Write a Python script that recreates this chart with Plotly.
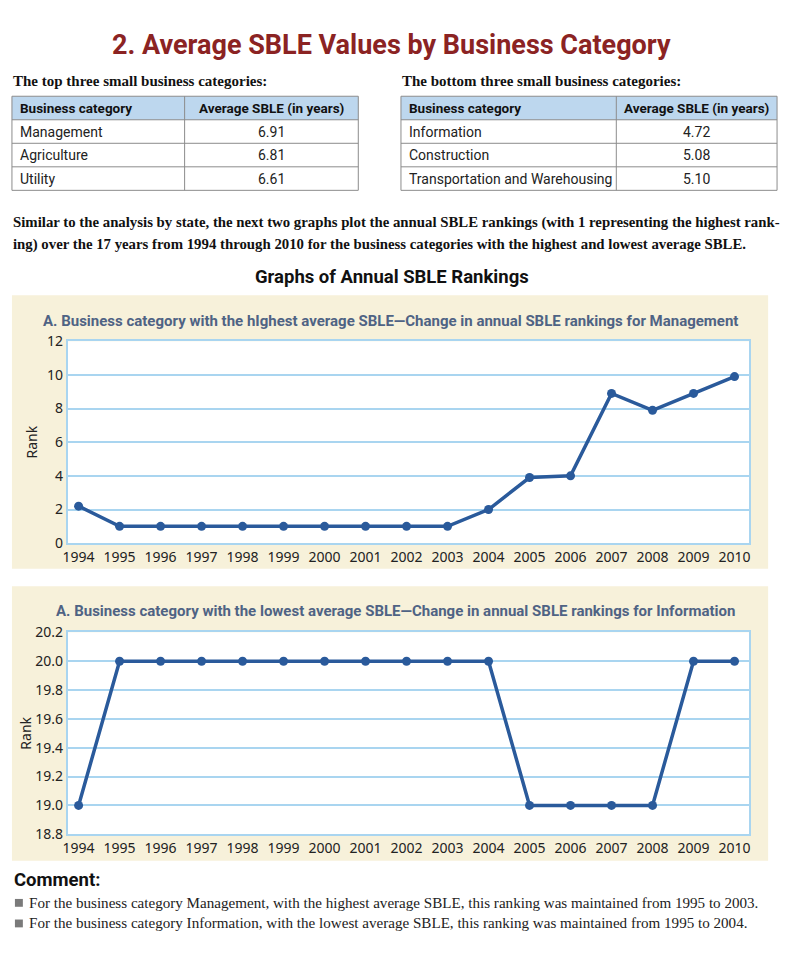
import plotly.graph_objects as go

W, H = 786, 954

years = list(range(1994, 2011))
mgmt_rank = [2.2, 1, 1, 1, 1, 1, 1, 1, 1, 1, 2, 3.9, 4.0, 8.9, 7.9, 8.9, 9.9]
info_rank = [19.0, 20, 20, 20, 20, 20, 20, 20, 20, 20, 20, 19, 19, 19, 19, 20, 20]

table_header = ["Business category", "Average SBLE (in years)"]
top_cats = ["Management", "Agriculture", "Utility"]
top_vals = ["6.91", "6.81", "6.61"]
bot_cats = ["Information", "Construction", "Transportation and Warehousing"]
bot_vals = ["4.72", "5.08", "5.10"]

LINE = "#2a5a9b"
GRID = "#a9d5f0"
PANEL = "#f7f1da"
SLATE = "#4f6384"
SANS = "Roboto, Arial, sans-serif"
SERIF = "Liberation Serif, Times New Roman, serif"
TICK = "Noto Sans, DejaVu Sans, sans-serif"


def px(x):
    return x / W


def py(y):
    return 1 - y / H


fig = go.Figure()

fig.add_trace(go.Scatter(x=years, y=mgmt_rank, mode="lines+markers", xaxis="x", yaxis="y",
                         line=dict(color=LINE, width=3.5), marker=dict(size=9, color=LINE),
                         showlegend=False, hoverinfo="x+y"))
fig.add_trace(go.Scatter(x=years, y=info_rank, mode="lines+markers", xaxis="x2", yaxis="y2",
                         line=dict(color=LINE, width=3.5), marker=dict(size=9, color=LINE),
                         showlegend=False, hoverinfo="x+y"))

ax_common = dict(showline=True, linecolor=GRID, linewidth=1.5, mirror=True,
                 tickfont=dict(family=TICK, size=14, color="#222"), ticks="")
xr = [1993.73, 2010.36]
fig.update_layout(
    xaxis=dict(domain=[px(63), px(750)], range=xr, anchor="y", tickmode="array", tickvals=years,
               showgrid=False, zeroline=False, **ax_common),
    yaxis=dict(domain=[py(544), py(338)], range=[0, 12], dtick=2, anchor="x", gridcolor=GRID,
               gridwidth=1.5, zeroline=False,
               title=dict(text="Rank", font=dict(family=TICK, size=14, color="#222"), standoff=6),
               **ax_common),
    xaxis2=dict(domain=[px(63), px(750)], range=xr, anchor="y2", tickmode="array", tickvals=years,
                showgrid=False, zeroline=False, **ax_common),
    yaxis2=dict(domain=[py(841), py(635)], range=[18.8, 20.2], dtick=0.2, tickformat=".1f",
                anchor="x2", gridcolor=GRID, gridwidth=1.5, zeroline=False,
                title=dict(text="Rank", font=dict(family=TICK, size=14, color="#222"), standoff=0),
                **ax_common),
)

shapes = [
    dict(type="rect", xref="paper", yref="paper", x0=px(7), x1=px(769), y0=py(570), y1=py(291),
         fillcolor=PANEL, line=dict(width=0), layer="below"),
    dict(type="rect", xref="paper", yref="paper", x0=px(7), x1=px(769), y0=py(868), y1=py(588),
         fillcolor=PANEL, line=dict(width=0), layer="below"),
    dict(type="rect", xref="paper", yref="paper", x0=px(63), x1=px(750), y0=py(544), y1=py(338),
         fillcolor="white", line=dict(width=0), layer="below"),
    dict(type="rect", xref="paper", yref="paper", x0=px(63), x1=px(750), y0=py(841), y1=py(635),
         fillcolor="white", line=dict(width=0), layer="below"),
    dict(type="rect", xref="paper", yref="paper", x0=px(10), x1=px(18), y0=py(915), y1=py(907),
         fillcolor="#7a7a7a", line=dict(width=0)),
    dict(type="rect", xref="paper", yref="paper", x0=px(10), x1=px(18), y0=py(936), y1=py(928),
         fillcolor="#7a7a7a", line=dict(width=0)),
]


def ann(text, x, y, size, family, color="#111", xanchor="left", bold=False):
    t = f"<b>{text}</b>" if bold else text
    return dict(text=t, x=px(x), y=py(y), xref="paper", yref="paper", xanchor=xanchor,
                yanchor="middle", showarrow=False, font=dict(size=size, family=family, color=color))


annotations = []

TB_GRAY = "#8c8c8c"


def add_table(cats, vals, x0, xm, x1):
    top, rh = 88, 24
    n = len(cats)
    bottom = top + rh * (n + 1)
    shapes.append(dict(type="rect", xref="paper", yref="paper", x0=px(x0), x1=px(x1),
                       y0=py(top + rh), y1=py(top), fillcolor="#bdd7ee", line=dict(width=0)))
    for i in range(n + 2):
        yy = top + rh * i
        shapes.append(dict(type="line", xref="paper", yref="paper", x0=px(x0), x1=px(x1),
                           y0=py(yy), y1=py(yy), line=dict(color=TB_GRAY, width=1)))
    for xx in (x0, xm, x1):
        shapes.append(dict(type="line", xref="paper", yref="paper", x0=px(xx), x1=px(xx),
                           y0=py(bottom), y1=py(top), line=dict(color=TB_GRAY, width=1)))
    annotations.append(ann(table_header[0], x0 + 6, top + rh / 2, 13.5, SANS, "#111", bold=True))
    annotations.append(ann(table_header[1], (xm + x1) / 2, top + rh / 2, 13.5, SANS, "#111", "center", True))
    for i, (c, v) in enumerate(zip(cats, vals)):
        yc = top + rh * (i + 1) + rh / 2
        annotations.append(ann(c, x0 + 6, yc, 14, SANS, "#222"))
        annotations.append(ann(v, (xm + x1) / 2, yc, 14, SANS, "#222", "center"))


add_table(top_cats, top_vals, 7, 181, 356)
add_table(bot_cats, bot_vals, 399, 616, 778)

annotations += [
    ann("2. Average SBLE Values by Business Category", 389, 36, 27, SANS, "#8b2323", "center", True),
    ann("The top three small business categories:", 6, 72, 15, SERIF, "#111", bold=True),
    ann("The bottom three small business categories:", 398, 72, 15, SERIF, "#111", bold=True),
    ann("Similar to the analysis by state, the next two graphs plot the annual SBLE rankings (with 1 representing the highest rank-",
        6, 217, 14.8, SERIF, "#111", bold=True),
    ann("ing) over the 17 years from 1994 through 2010 for the business categories with the highest and lowest average SBLE.",
        6, 239, 14.8, SERIF, "#111", bold=True),
    ann("Graphs of Annual SBLE Rankings", 390, 272, 18.5, SANS, "#111", "center", True),
    ann("A. Business category with the hIghest average SBLE\u2014Change in annual SBLE rankings for Management",
        388, 317, 15, SANS, SLATE, "center", True),
    ann("A. Business category with the lowest average SBLE\u2014Change in annual SBLE rankings for Information",
        394, 613, 15, SANS, SLATE, "center", True),
    ann("Comment:", 7, 888, 18.5, SANS, "#111", bold=True),
    ann("For the business category Management, with the highest average SBLE, this ranking was maintained from 1995 to 2003.",
        22, 911, 15.1, SERIF, "#222"),
    ann("For the business category Information, with the lowest average SBLE, this ranking was maintained from 1995 to 2004.",
        22, 932, 15.1, SERIF, "#222"),
]

fig.update_layout(width=W, height=H, margin=dict(l=0, r=0, t=0, b=0), paper_bgcolor="white",
                  plot_bgcolor="rgba(0,0,0,0)", shapes=shapes, annotations=annotations, showlegend=False)

fig.write_html("out.html", config={"displayModeBar": False},
               post_script="document.body.style.margin='0';document.body.style.overflow='hidden';")
